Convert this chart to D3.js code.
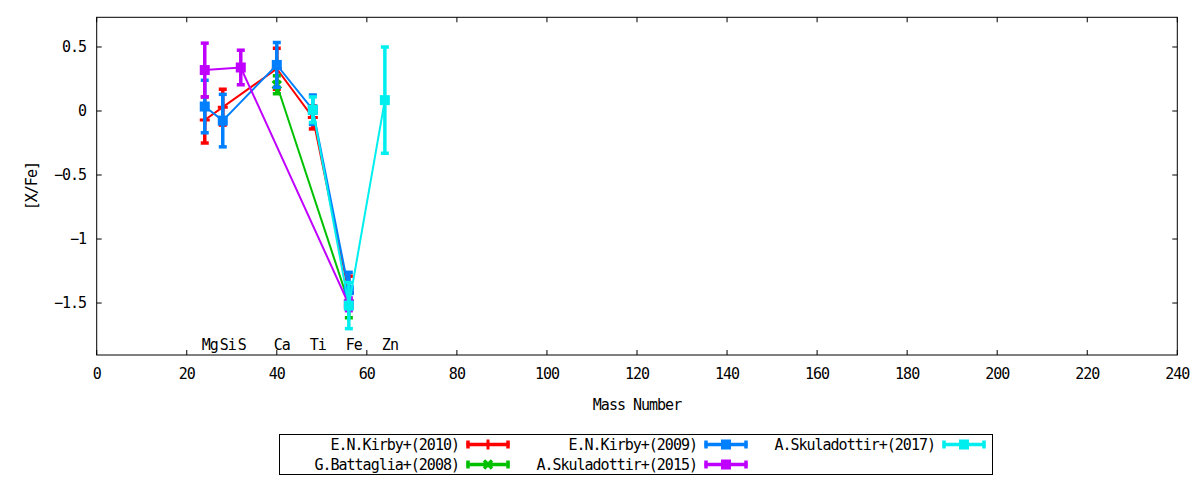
<!DOCTYPE html>
<html>
<head>
<meta charset="utf-8">
<script src="https://cdn.jsdelivr.net/npm/d3@7"></script>
<style>
  body { margin: 0; background: #fff; }
  text { font-family: 'DejaVu Sans Mono', monospace; font-size: 15px; letter-spacing: -1px; fill: #000; }
</style>
</head>
<body>
<svg id="chart" width="1200" height="480"></svg>
<script>
'use strict'

// element labels along the bottom of the plot
const elements = ['Mg', 'Si', 'S', 'Ca', 'Ti', 'Fe', 'Zn']
const massNumbers = [24, 28, 32, 40, 48, 56, 64]

// each series: element, [X/Fe], error
const kirby2010Elem = ['Mg', 'Si', 'Ca', 'Ti', 'Fe']
const kirby2010Val = [-0.07, 0.03, 0.33, -0.05, -1.42]
const kirby2010Err = [0.18, 0.14, 0.16, 0.09, 0.13]

const battaglia2008Elem = ['Ca', 'Fe']
const battaglia2008Val = [0.205, -1.50]
const battaglia2008Err = [0.07, 0.115]

const kirby2009Elem = ['Mg', 'Si', 'Ca', 'Ti', 'Fe']
const kirby2009Val = [0.035, -0.075, 0.36, 0.01, -1.40]
const kirby2009Err = [0.205, 0.205, 0.175, 0.115, 0.14]

const skul2015Elem = ['Mg', 'S', 'Fe']
const skul2015Val = [0.32, 0.34, -1.51]
const skul2015Err = [0.21, 0.135, 0.05]

const skul2017Elem = ['Ti', 'Fe', 'Zn']
const skul2017Val = [0.01, -1.52, 0.085]
const skul2017Err = [0.1, 0.18, 0.415]

const xTicks = [0, 20, 40, 60, 80, 100, 120, 140, 160, 180, 200, 220, 240]
const yTicks = [-1.5, -1, -0.5, 0, 0.5]

const massOf = {}
elements.forEach((e, i) => { massOf[e] = massNumbers[i] })

function makeSeries(name, elem, val, err, color, marker) {
	return {
		name: name, color: color, marker: marker,
		points: elem.map((e, i) => ({ x: massOf[e], y: val[i], err: err[i] }))
	}
}

const series = [
	makeSeries('E.N.Kirby+(2010)', kirby2010Elem, kirby2010Val, kirby2010Err, '#ff0000', 'plus'),
	makeSeries('G.Battaglia+(2008)', battaglia2008Elem, battaglia2008Val, battaglia2008Err, '#00c000', 'cross'),
	makeSeries('E.N.Kirby+(2009)', kirby2009Elem, kirby2009Val, kirby2009Err, '#0080ff', 'square'),
	makeSeries('A.Skuladottir+(2015)', skul2015Elem, skul2015Val, skul2015Err, '#c000ff', 'square'),
	makeSeries('A.Skuladottir+(2017)', skul2017Elem, skul2017Val, skul2017Err, '#00eeee', 'square')
]

const pLeft = 96.7, pRight = 1177.3, pTop = 17.3, pBottom = 355
const svg = d3.select('#chart')

const x = d3.scaleLinear().domain([0, 240]).range([pLeft, pRight])
const y = d3.scaleLinear().domain([-1.906, 0.732]).range([pBottom, pTop])

// ticks (inward, mirrored)
const tickLen = 5
const axes = svg.append('g').attr('stroke', '#000').attr('stroke-width', 1)
xTicks.forEach(t => {
	axes.append('line').attr('x1', x(t)).attr('x2', x(t)).attr('y1', pBottom).attr('y2', pBottom - tickLen)
	axes.append('line').attr('x1', x(t)).attr('x2', x(t)).attr('y1', pTop).attr('y2', pTop + tickLen)
})
yTicks.forEach(t => {
	axes.append('line').attr('x1', pLeft).attr('x2', pLeft + tickLen).attr('y1', y(t)).attr('y2', y(t))
	axes.append('line').attr('x1', pRight).attr('x2', pRight - tickLen).attr('y1', y(t)).attr('y2', y(t))
})
svg.append('rect')
	.attr('x', pLeft).attr('y', pTop)
	.attr('width', pRight - pLeft).attr('height', pBottom - pTop)
	.attr('fill', 'none').attr('stroke', '#000').attr('stroke-width', 1)

svg.append('g').selectAll('text').data(xTicks).join('text')
	.attr('x', d => x(d)).attr('y', 379)
	.attr('text-anchor', 'middle')
	.text(d => d)

svg.append('g').selectAll('text').data(yTicks).join('text')
	.attr('x', 86).attr('y', d => y(d) + 5)
	.attr('text-anchor', 'end')
	.text(d => d3.format('')(d))

svg.append('text')
	.attr('transform', 'translate(37,' + ((pTop + pBottom) / 2) + ') rotate(-90)')
	.attr('text-anchor', 'middle')
	.text('[X/Fe]')

svg.append('text')
	.attr('x', (pLeft + pRight) / 2).attr('y', 410)
	.attr('text-anchor', 'middle')
	.text('Mass Number')

// element names
svg.append('g').selectAll('text').data(elements).join('text')
	.attr('x', (d, i) => x(massNumbers[i]) - 3)
	.attr('y', 350)
	.text(d => d)

function drawMarker(g, type, cx, cy, color) {
	if (type === 'square') {
		g.append('rect').attr('x', cx - 5).attr('y', cy - 5)
			.attr('width', 10).attr('height', 10).attr('fill', color)
	}
	else if (type === 'plus') {
		g.append('path').attr('d', 'M' + (cx - 5) + ',' + cy + 'H' + (cx + 5) + 'M' + cx + ',' + (cy - 5) + 'V' + (cy + 5))
			.attr('stroke', color).attr('stroke-width', 3).attr('fill', 'none')
	}
	else {
		g.append('path').attr('d', 'M' + (cx - 4) + ',' + (cy - 4) + 'L' + (cx + 4) + ',' + (cy + 4) +
			'M' + (cx - 4) + ',' + (cy + 4) + 'L' + (cx + 4) + ',' + (cy - 4))
			.attr('stroke', color).attr('stroke-width', 3.5).attr('fill', 'none')
	}
}

const line = d3.line().x(d => x(d.x)).y(d => y(d.y))
const plot = svg.append('g')

series.forEach(s => {
	let g = plot.append('g')
	s.points.forEach(p => {
		let cx = x(p.x), y1 = y(p.y + p.err), y2 = y(p.y - p.err)
		g.append('line').attr('x1', cx).attr('x2', cx).attr('y1', y1).attr('y2', y2)
			.attr('stroke', s.color).attr('stroke-width', 3.5)
		;[y1, y2].forEach(cy => {
			g.append('line').attr('x1', cx - 4).attr('x2', cx + 4).attr('y1', cy).attr('y2', cy)
				.attr('stroke', s.color).attr('stroke-width', 3.5)
		})
	})
	g.append('path').datum(s.points).attr('d', line)
		.attr('fill', 'none').attr('stroke', s.color).attr('stroke-width', 2)
	s.points.forEach(p => drawMarker(g, s.marker, x(p.x), y(p.y), s.color))
})

// legend: 2 rows, filled column by column
const legend = svg.append('g')
legend.append('rect').attr('x', 279.5).attr('y', 434.5).attr('width', 713).attr('height', 40)
	.attr('fill', 'none').attr('stroke', '#000').attr('stroke-width', 1)
const colW = 238
series.forEach((s, i) => {
	let col = Math.floor(i / 2), row = i % 2
	let tx = 459 + col * colW, ly = 444.5 + row * 20
	legend.append('text').attr('x', tx).attr('y', ly + 5).attr('text-anchor', 'end').text(s.name)
	let x1 = 466.5 + col * colW, x2 = 509.5 + col * colW
	legend.append('line').attr('x1', x1).attr('x2', x2).attr('y1', ly).attr('y2', ly)
		.attr('stroke', s.color).attr('stroke-width', 3.5)
	;[x1 + 1.5, x2 - 1.5].forEach(cx => {
		legend.append('line').attr('x1', cx).attr('x2', cx).attr('y1', ly - 4).attr('y2', ly + 4)
			.attr('stroke', s.color).attr('stroke-width', 3.5)
	})
	drawMarker(legend, s.marker, (x1 + x2) / 2, ly, s.color)
})
</script>
</body>
</html>
